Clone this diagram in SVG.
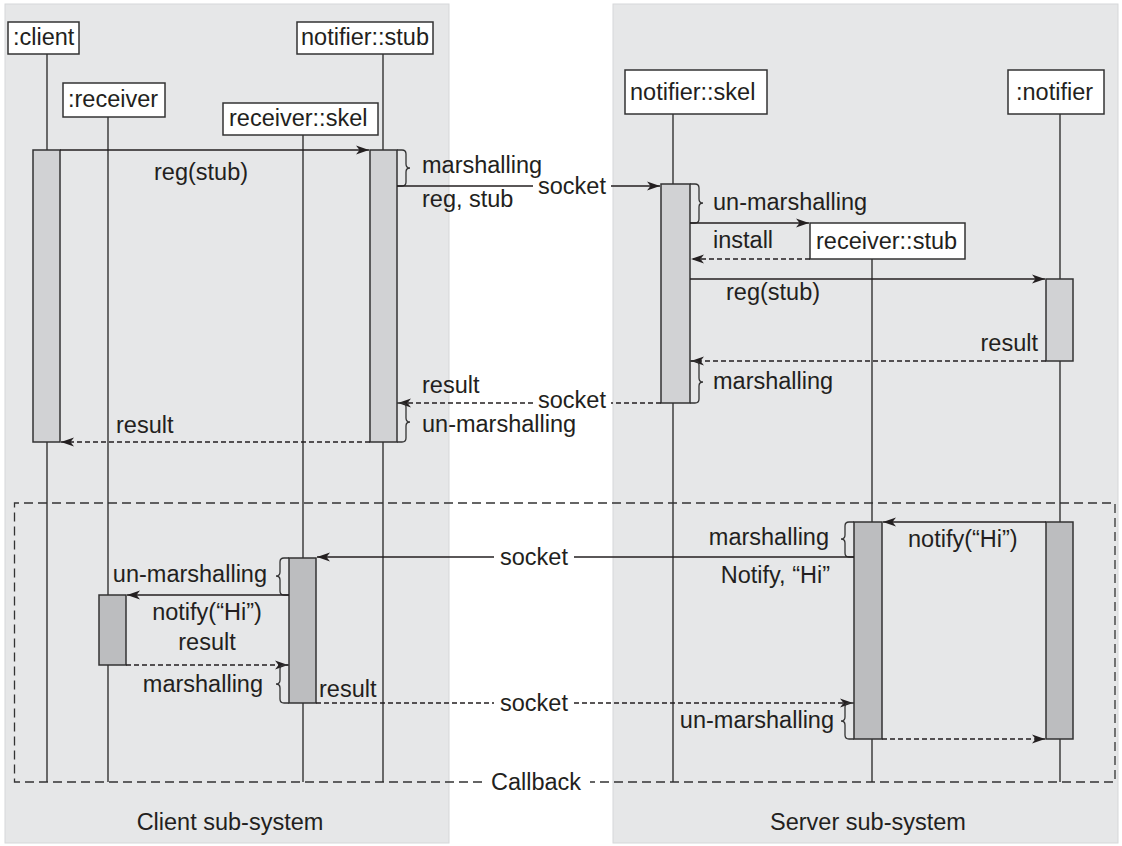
<svg xmlns="http://www.w3.org/2000/svg" width="1122" height="846" viewBox="0 0 1122 846">
<style>
.panel{fill:#e6e7e8;stroke:#d6d7d9;stroke-width:1}
.box{fill:#ffffff;stroke:#333333;stroke-width:1.5}
.life{stroke:#333333;stroke-width:1.4;fill:none}
.actL{fill:#d1d2d4;stroke:#333333;stroke-width:1.5}
.actD{fill:#bcbdbf;stroke:#333333;stroke-width:1.5}
.msg{stroke:#231f20;stroke-width:1.4;fill:none}
.ret{stroke:#231f20;stroke-width:1.4;fill:none;stroke-dasharray:5 3}
.frame{stroke:#333333;stroke-width:1.3;fill:none;stroke-dasharray:9 5}
.brace{stroke:#333333;stroke-width:1.3;fill:none}
text{font-family:"Liberation Sans",Arial,sans-serif;font-size:23.5px;fill:#231f20}
.mid{text-anchor:middle}
.end{text-anchor:end}
</style>
<defs>
<marker id="arr" markerUnits="userSpaceOnUse" markerWidth="14" markerHeight="10" refX="13" refY="5" orient="auto">
<path d="M0,0.5 L13,5 L0,9.5 L3.5,5 Z" fill="#231f20"/>
</marker>
</defs>

<g id="panels">
<rect class="panel" x="5" y="4" width="444" height="839"/>
<rect class="panel" x="613" y="4" width="505" height="839"/>
<text class="mid" x="230" y="830">Client sub-system</text>
<text class="mid" x="868" y="830">Server sub-system</text>
</g>

<g id="callback-frame">
<path class="frame" d="M482,782 H14.5 V503 H1115 V782 H590"/>
<text class="mid" x="536" y="790">Callback</text>
</g>

<g id="client">
<line class="life" x1="47" y1="54" x2="47" y2="782"/>
<rect class="box" x="8" y="22" width="71" height="32"/>
<text x="13" y="45">:client</text>
<rect class="actL" x="33" y="150" width="27" height="292"/>
</g>

<g id="receiver">
<line class="life" x1="108" y1="117" x2="108" y2="782"/>
<rect class="box" x="63" y="83" width="102" height="34"/>
<text x="68" y="107">:receiver</text>
<rect class="actD" x="99" y="595" width="27" height="70"/>
</g>

<g id="receiver-skel">
<line class="life" x1="303" y1="135" x2="303" y2="782"/>
<rect class="box" x="223" y="103" width="155" height="32"/>
<text x="229" y="126">receiver::skel</text>
<rect class="actD" x="289" y="558" width="27" height="145"/>
</g>

<g id="notifier-stub">
<line class="life" x1="383" y1="54" x2="383" y2="782"/>
<rect class="box" x="297" y="22" width="136" height="32"/>
<text x="301" y="45">notifier::stub</text>
<rect class="actL" x="370" y="150" width="27" height="292"/>
</g>

<g id="notifier-skel">
<line class="life" x1="673" y1="114" x2="673" y2="782"/>
<rect class="box" x="625" y="70" width="142" height="44"/>
<text x="630" y="100">notifier::skel</text>
<rect class="actL" x="661" y="184" width="29" height="219"/>
</g>

<g id="receiver-stub">
<line class="life" x1="872" y1="259" x2="872" y2="782"/>
<rect class="box" x="810" y="223" width="155" height="36"/>
<text x="816" y="249">receiver::stub</text>
<rect class="actD" x="854" y="522" width="28" height="217"/>
</g>

<g id="notifier">
<line class="life" x1="1060" y1="114" x2="1060" y2="782"/>
<rect class="box" x="1008" y="70" width="96" height="44"/>
<text x="1016" y="100">:notifier</text>
<rect class="actL" x="1046" y="279" width="27" height="82"/>
<rect class="actD" x="1046" y="522" width="27" height="217"/>
</g>

<g id="connectors">
<!-- registration phase -->
<line class="msg" x1="60" y1="150" x2="369" y2="150" marker-end="url(#arr)"/>
<text x="154" y="180">reg(stub)</text>

<path class="brace" d="M397,150 H402 Q406,150 406,154 V164 Q406,168 410,168 Q406,168 406,172 V182 Q406,186 402,186 H397"/>
<text x="422" y="173">marshalling</text>
<line class="msg" x1="397" y1="186" x2="533" y2="186"/>
<text class="mid" x="572" y="194">socket</text>
<line class="msg" x1="611" y1="186" x2="660" y2="186" marker-end="url(#arr)"/>
<text x="422" y="207">reg, stub</text>

<path class="brace" d="M690,184 H695 Q699,184 699,188 V199 Q699,203 703,203 Q699,203 699,207 V219 Q699,223 695,223 H690"/>
<text x="713" y="210">un-marshalling</text>
<line class="msg" x1="690" y1="223" x2="809" y2="223" marker-end="url(#arr)"/>
<line class="ret" x1="810" y1="259" x2="691" y2="259" marker-end="url(#arr)"/>
<text x="713" y="248">install</text>

<line class="msg" x1="690" y1="279" x2="1045" y2="279" marker-end="url(#arr)"/>
<text x="726" y="300">reg(stub)</text>
<line class="ret" x1="1046" y1="361" x2="691" y2="361" marker-end="url(#arr)"/>
<text class="end" x="1038" y="351">result</text>

<path class="brace" d="M690,361 H695 Q699,361 699,365 V378 Q699,382 703,382 Q699,382 699,386 V399 Q699,403 695,403 H690"/>
<text x="713" y="389">marshalling</text>
<line class="ret" x1="661" y1="403" x2="611" y2="403"/>
<text class="mid" x="572" y="408">socket</text>
<line class="ret" x1="533" y1="403" x2="398" y2="403" marker-end="url(#arr)"/>
<text x="422" y="393">result</text>

<path class="brace" d="M397,403 H402 Q406,403 406,407 V418 Q406,422 410,422 Q406,422 406,426 V438 Q406,442 402,442 H397"/>
<text x="422" y="432">un-marshalling</text>
<line class="ret" x1="370" y1="442" x2="61" y2="442" marker-end="url(#arr)"/>
<text x="116" y="433">result</text>

<!-- callback phase -->
<line class="msg" x1="1046" y1="522" x2="883" y2="522" marker-end="url(#arr)"/>
<text x="908" y="547">notify(“Hi”)</text>

<path class="brace" d="M854,522 H849 Q845,522 845,526 V535 Q845,539 841,539 Q845,539 845,543 V553 Q845,557 849,557 H854"/>
<text class="end" x="829" y="545">marshalling</text>
<line class="msg" x1="854" y1="557" x2="574" y2="557"/>
<text class="mid" x="534" y="565">socket</text>
<line class="msg" x1="494" y1="557" x2="317" y2="557" marker-end="url(#arr)"/>
<text class="end" x="830" y="583">Notify, “Hi”</text>

<path class="brace" d="M289,558 H284 Q280,558 280,562 V572 Q280,576 276,576 Q280,576 280,580 V591 Q280,595 284,595 H289"/>
<text class="end" x="267" y="582">un-marshalling</text>
<line class="msg" x1="289" y1="595" x2="127" y2="595" marker-end="url(#arr)"/>
<text class="mid" x="207" y="620">notify(“Hi”)</text>
<line class="ret" x1="126" y1="665" x2="288" y2="665" marker-end="url(#arr)"/>
<text class="mid" x="207" y="650">result</text>

<path class="brace" d="M289,665 H284 Q280,665 280,669 V680 Q280,684 276,684 Q280,684 280,688 V699 Q280,703 284,703 H289"/>
<text class="end" x="263" y="692">marshalling</text>
<line class="ret" x1="316" y1="703" x2="494" y2="703"/>
<text class="mid" x="534" y="711">socket</text>
<line class="ret" x1="574" y1="703" x2="853" y2="703" marker-end="url(#arr)"/>
<text x="319" y="697">result</text>

<path class="brace" d="M854,703 H849 Q845,703 845,707 V717 Q845,721 841,721 Q845,721 845,725 V735 Q845,739 849,739 H854"/>
<text class="end" x="834" y="728">un-marshalling</text>
<line class="ret" x1="882" y1="739" x2="1045" y2="739" marker-end="url(#arr)"/>
</g>
</svg>
